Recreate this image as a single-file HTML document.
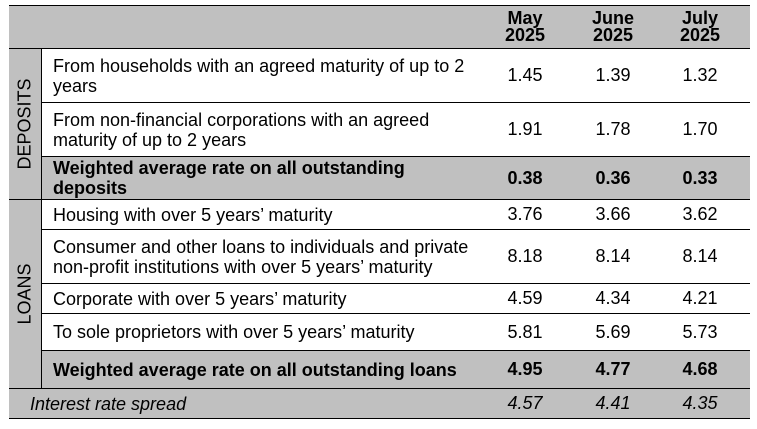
<!DOCTYPE html>
<html><head><meta charset="utf-8"><style>
body{margin:0;width:757px;height:429px;background:#fff;font-family:"Liberation Sans",Arial,sans-serif;position:relative;overflow:hidden;color:#000}
.r{position:absolute;left:9px;width:741px;box-sizing:border-box;border-top:1px solid #000}
.g{background:#c0c0c0}
.t{position:absolute;left:44px;font-size:18px;line-height:20px;display:flex;align-items:center;height:100%}
.n{position:absolute;width:80px;text-align:center;font-size:18px;height:100%;display:flex;align-items:center;justify-content:center}
.b{font-weight:bold}
.side{position:absolute;left:9px;width:33px;background:#c0c0c0;border-right:1px solid #000;box-sizing:border-box}
.side span{position:absolute;left:50%;top:50%;transform:translate(-50%,-50%) rotate(-90deg);font-size:18px;white-space:nowrap}
</style></head><body>
<div class="r g" style="top:5px;height:43px">
 <div class="n b" style="left:476px;line-height:17px;flex-direction:column">May<br>2025</div>
 <div class="n b" style="left:564px;line-height:17px;flex-direction:column">June<br>2025</div>
 <div class="n b" style="left:651px;line-height:17px;flex-direction:column">July<br>2025</div>
</div>
<div class="r" style="top:48px;height:54px">
 <div class="t" style="width:422px">From households with an agreed maturity of up to 2 years</div>
 <div class="n" style="left:476px">1.45</div><div class="n" style="left:564px">1.39</div><div class="n" style="left:651px">1.32</div>
</div>
<div class="r" style="top:102px;height:54px">
 <div class="t" style="width:415px">From non-financial corporations with an agreed maturity of up to 2 years</div>
 <div class="n" style="left:476px">1.91</div><div class="n" style="left:564px">1.78</div><div class="n" style="left:651px">1.70</div>
</div>
<div class="r g b" style="top:156px;height:43px">
 <div class="t" style="width:410px">Weighted average rate on all outstanding deposits</div>
 <div class="n" style="left:476px">0.38</div><div class="n" style="left:564px">0.36</div><div class="n" style="left:651px">0.33</div>
</div>
<div class="r" style="top:199px;height:30px">
 <div class="t">Housing with over 5 years’ maturity</div>
 <div class="n" style="left:476px">3.76</div><div class="n" style="left:564px">3.66</div><div class="n" style="left:651px">3.62</div>
</div>
<div class="r" style="top:229px;height:54px">
 <div class="t" style="width:425px">Consumer and other loans to individuals and private non-profit institutions with over 5 years’ maturity</div>
 <div class="n" style="left:476px">8.18</div><div class="n" style="left:564px">8.14</div><div class="n" style="left:651px">8.14</div>
</div>
<div class="r" style="top:283px;height:30px">
 <div class="t">Corporate with over 5 years’ maturity</div>
 <div class="n" style="left:476px">4.59</div><div class="n" style="left:564px">4.34</div><div class="n" style="left:651px">4.21</div>
</div>
<div class="r" style="top:313px;height:37px">
 <div class="t">To sole proprietors with over 5 years’ maturity</div>
 <div class="n" style="left:476px">5.81</div><div class="n" style="left:564px">5.69</div><div class="n" style="left:651px">5.73</div>
</div>
<div class="r g b" style="top:350px;height:38px">
 <div class="t">Weighted average rate on all outstanding loans</div>
 <div class="n" style="left:476px">4.95</div><div class="n" style="left:564px">4.77</div><div class="n" style="left:651px">4.68</div>
</div>
<div class="r g" style="top:388px;height:31px;border-bottom:1px solid #000;font-style:italic">
 <div class="t" style="left:21px">Interest rate spread</div>
 <div class="n" style="left:476px">4.57</div><div class="n" style="left:564px">4.41</div><div class="n" style="left:651px">4.35</div>
</div>
<div class="side" style="top:49px;height:150px"><span>DEPOSITS</span></div>
<div class="side" style="top:199px;height:189px;border-top:1px solid #000"><span>LOANS</span></div>
</body></html>
